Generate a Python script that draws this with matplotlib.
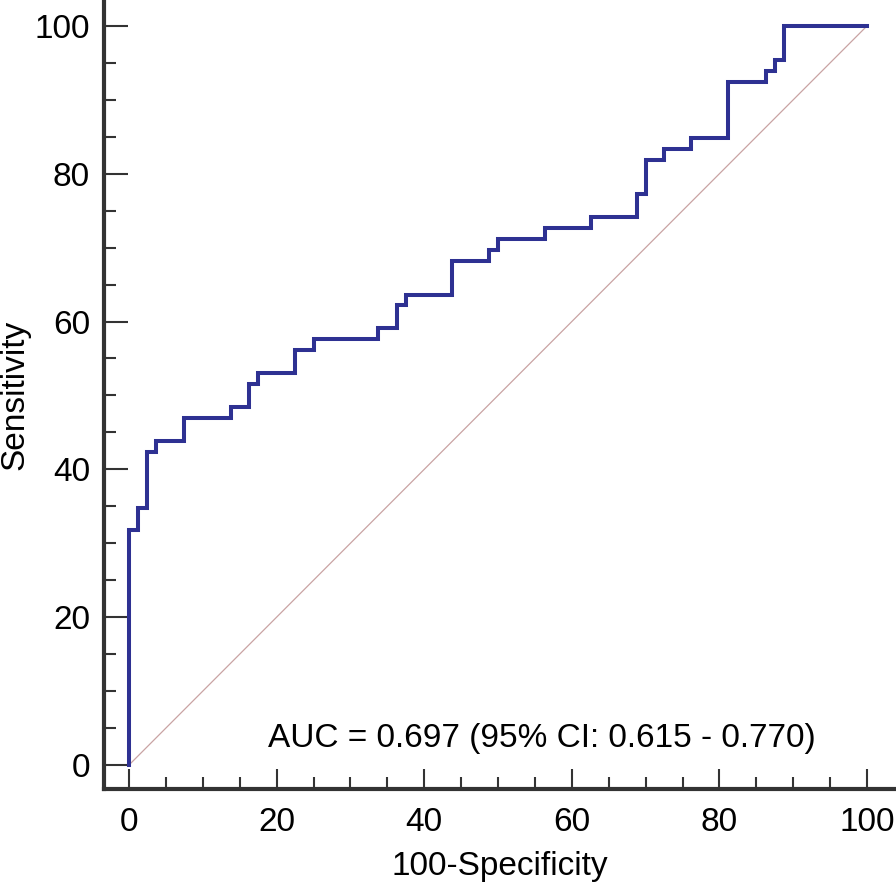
import matplotlib
matplotlib.use("Agg")
import matplotlib.pyplot as plt
from matplotlib.ticker import MultipleLocator

plt.rcParams['font.family'] = ['Liberation Sans', 'DejaVu Sans']

# ROC curve corners (100-Specificity, Sensitivity)
fpr = [0, 0, 1.2, 1.2, 2.5, 2.5, 3.7, 3.7, 7.5, 7.5, 13.8, 13.8, 16.3, 16.3,
       17.5, 17.5, 22.5, 22.5, 25.1, 25.1, 33.8, 33.8, 36.3, 36.3, 37.5, 37.5,
       43.7, 43.7, 48.8, 48.8, 50.0, 50.0, 56.3, 56.3, 62.6, 62.6, 68.8, 68.8,
       70.1, 70.1, 72.5, 72.5, 76.2, 76.2, 81.2, 81.2, 86.3, 86.3, 87.5, 87.5,
       88.8, 88.8, 100]
tpr = [0, 31.8, 31.8, 34.8, 34.8, 42.4, 42.4, 43.9, 43.9, 46.9, 46.9, 48.5,
       48.5, 51.5, 51.5, 53.0, 53.0, 56.1, 56.1, 57.6, 57.6, 59.1, 59.1, 62.2,
       62.2, 63.6, 63.6, 68.2, 68.2, 69.7, 69.7, 71.2, 71.2, 72.7, 72.7, 74.2,
       74.2, 77.3, 77.3, 81.8, 81.8, 83.3, 83.3, 84.8, 84.8, 92.4, 92.4, 93.9,
       93.9, 95.4, 95.4, 100, 100]
diag = [0, 100]
auc_text = "AUC = 0.697 (95% CI: 0.615 - 0.770)"

fig = plt.figure(figsize=(8.96, 8.89), dpi=100)
ax = fig.add_axes([0.116, 0.1125, 0.883, 0.8875])

ax.plot(diag, diag, color="#c9a3a3", lw=0.9)
ax.plot(fpr, tpr, color="#2e3192", lw=2.9, solid_joinstyle="miter")

ax.set_xlim(-3.4, 103.8)
ax.set_ylim(-3.25, 103.5)

for side in ["top", "right"]:
    ax.spines[side].set_visible(False)
for side in ["left", "bottom"]:
    ax.spines[side].set_linewidth(3.0)
    ax.spines[side].set_color("#333333")

ax.xaxis.set_major_locator(MultipleLocator(20))
ax.xaxis.set_minor_locator(MultipleLocator(5))
ax.yaxis.set_major_locator(MultipleLocator(20))
ax.yaxis.set_minor_locator(MultipleLocator(5))
ax.tick_params(which="both", direction="in", width=1.5, color="#333333",
               labelsize=24)
ax.tick_params(axis="x", which="major", length=14.5, pad=13)
ax.tick_params(axis="y", which="major", length=17.5, pad=10)
ax.tick_params(which="minor", length=8.5)

ax.set_xlabel("100-Specificity", fontsize=24, labelpad=9)
ax.set_ylabel("Sensitivity", fontsize=24, labelpad=3)

ax.text(56, 2.4, auc_text, fontsize=24, ha="center", va="baseline")

fig.savefig("out.png", dpi=100)
